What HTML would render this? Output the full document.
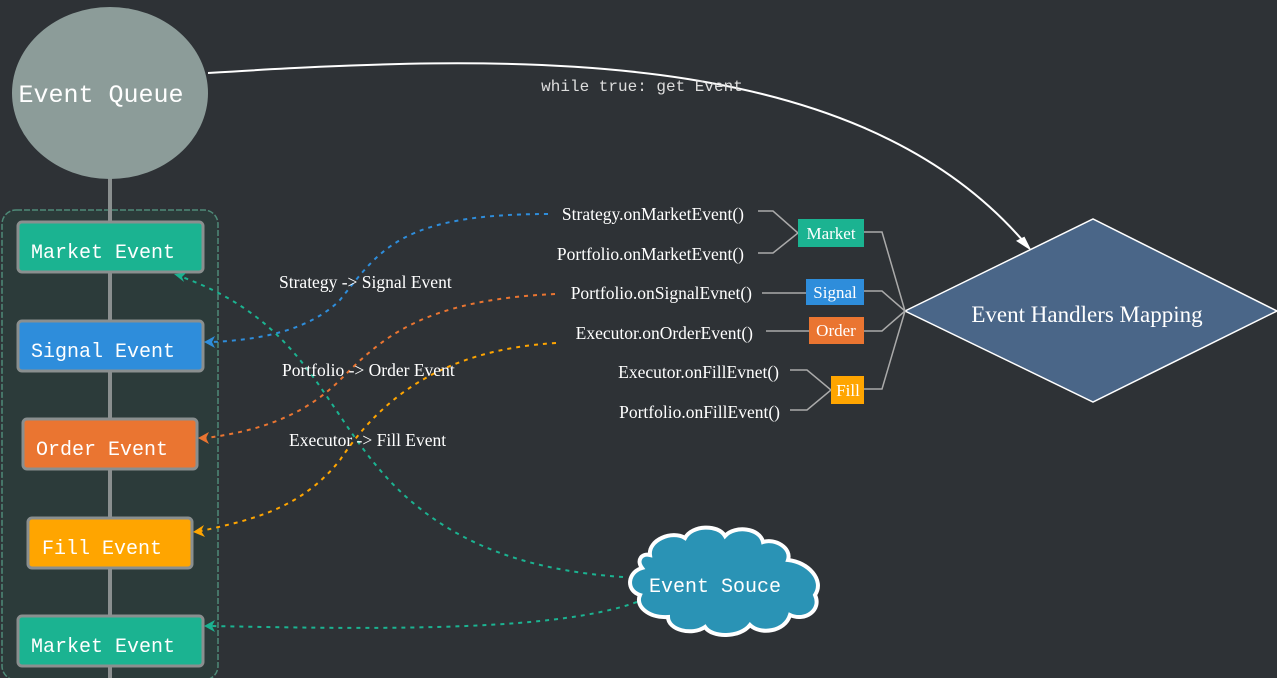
<!DOCTYPE html>
<html><head><meta charset="utf-8"><style>
html,body{margin:0;padding:0;background:#2e3236;}
svg{display:block}
.m{font-family:"Liberation Mono",monospace;}
.s{font-family:"Liberation Serif",serif;}
</style></head><body>
<svg width="1277" height="678" viewBox="0 0 1277 678" xmlns="http://www.w3.org/2000/svg">
<rect width="1277" height="678" fill="#2e3236"/>
<rect x="2" y="210" width="216" height="470" rx="14" fill="#2c3b3a" stroke="#4f8a78" stroke-width="1.5" stroke-dasharray="6 2"/>
<line x1="110" y1="170" x2="110" y2="678" stroke="#8a8f8f" stroke-width="4"/>
<ellipse cx="110" cy="93" rx="98" ry="86" fill="#8c9c99"/>
<text x="101" y="102" class="m" font-size="25" fill="#fff" text-anchor="middle">Event Queue</text>
<g stroke="#8a8f8f" stroke-width="3">
<rect x="18" y="222" width="185" height="50" rx="4" fill="#1bb391"/>
<rect x="18" y="321" width="185" height="50" rx="4" fill="#2e8ddb"/>
<rect x="23" y="419" width="174" height="50" rx="4" fill="#ea7531"/>
<rect x="28" y="518" width="164" height="50" rx="4" fill="#ffa500"/>
<rect x="18" y="616" width="185" height="50" rx="4" fill="#1bb391"/>
</g>
<g class="m" font-size="20" fill="#fff">
<text x="31" y="258">Market Event</text>
<text x="31" y="357">Signal Event</text>
<text x="36" y="455">Order Event</text>
<text x="42" y="554">Fill Event</text>
<text x="31" y="652">Market Event</text>
</g>
<path d="M208,73 C500,55 850,40 1024,242" fill="none" stroke="#fff" stroke-width="2"/>
<polygon points="1029,248 1018,241 1024,238" fill="#fff" stroke="#fff" stroke-width="2"/>
<text x="642" y="91" class="m" font-size="16" fill="#ddd" text-anchor="middle">while true: get Event</text>
<polygon points="905,311 1093,219 1277,311 1093,402" fill="#4a6688" stroke="#fff" stroke-width="1.5"/>
<text x="1087" y="322" class="s" font-size="23" fill="#fff" text-anchor="middle">Event Handlers Mapping</text>
<g stroke="#aaa" stroke-width="1.5" fill="none">
<path d="M758,211 H773 L798,233 L773,253 H758"/>
<path d="M864,232 H882 L905,311"/>
<path d="M762,293 H806"/>
<path d="M864,291 H882 L905,311"/>
<path d="M766,331 H809"/>
<path d="M864,331 H882 L905,311"/>
<path d="M790,370 H807 L831,390 L807,410 H790"/>
<path d="M864,389 H882 L905,311"/>
</g>
<rect x="798" y="219" width="66" height="28" fill="#1bb391"/>
<rect x="806" y="279" width="58" height="26" fill="#2e8ddb"/>
<rect x="809" y="317" width="55" height="27" fill="#ea7531"/>
<rect x="831" y="376" width="33" height="28" fill="#ffa500"/>
<g class="s" font-size="17" fill="#fff" text-anchor="middle">
<text x="831" y="239">Market</text>
<text x="835" y="298">Signal</text>
<text x="836" y="336">Order</text>
<text x="848" y="396">Fill</text>
</g>
<g class="s" font-size="17.5" fill="#fff" text-anchor="end">
<text x="744" y="220">Strategy.onMarketEvent()</text>
<text x="744" y="260">Portfolio.onMarketEvent()</text>
<text x="752" y="299">Portfolio.onSignalEvnet()</text>
<text x="753" y="339">Executor.onOrderEvent()</text>
<text x="779" y="378">Executor.onFillEvnet()</text>
<text x="780" y="418">Portfolio.onFillEvent()</text>
</g>
<g fill="none" stroke-width="2" stroke-dasharray="4 5">
<path d="M548,214 C400,214 380,250 340,300 C310,330 260,340 212,342" stroke="#2e8ddb"/>
<path d="M555,294 C420,300 380,340 340,380 C300,420 250,432 206,438" stroke="#ea7531"/>
<path d="M556,343 C440,350 380,400 340,460 C300,510 250,520 201,531" stroke="#ffa500"/>
<path d="M623,577 C520,570 440,540 380,470 C320,400 300,320 182,277" stroke="#1bb391"/>
<path d="M637,602 C560,630 400,630 212,626" stroke="#1bb391"/>
</g>
<polygon points="204,342 215,336 212,342 215,348" fill="#2e8ddb"/>
<polygon points="198,438 209,432 206,438 209,444" fill="#ea7531"/>
<polygon points="193,532 204,525 201,531 205,537" fill="#ffa500"/>
<polygon points="174,274 186,273 182,277 184,282" fill="#1bb391"/>
<polygon points="204,626 215,620 212,626 215,632" fill="#1bb391"/>
<g class="s" font-size="17.5" fill="#fff">
<text x="279" y="288">Strategy -&gt; Signal Event</text>
<text x="282" y="376">Portfolio -&gt; Order Event</text>
<text x="289" y="446">Executor -&gt; Fill Event</text>
</g>
<path d="M650,555 C648,540 672,530 685,538 C692,525 718,524 725,536 C735,525 760,528 763,542 C775,538 792,548 788,560 C808,562 825,580 815,595 C822,610 805,622 790,615 C785,632 760,635 750,625 C740,638 712,638 705,627 C692,636 668,630 668,617 C648,618 635,606 640,595 C625,590 628,572 642,568 C636,560 642,553 650,555 Z" fill="#2a93b5" stroke="#fff" stroke-width="4"/>
<text x="715" y="592" class="m" font-size="20" fill="#fff" text-anchor="middle">Event Souce</text>
</svg>
</body></html>
